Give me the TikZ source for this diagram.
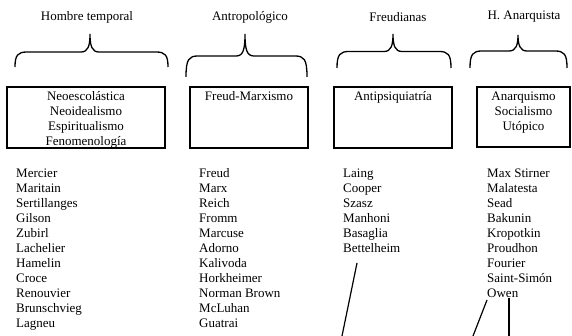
\documentclass[tikz,border=0pt]{standalone}
\usepackage{fontspec}
\setmainfont{Liberation Serif}
\usetikzlibrary{positioning}
\newcommand{\llave}[6]{%
  \draw[line width=1.3pt] (#1,#6) .. controls (#1,#5+3) and (#1+3,#5) .. (#1+12,#5)
    -- (#2-9,#5) .. controls (#2-2,#5) and (#2,#5-6) .. (#2,#4)
    .. controls (#2,#5-6) and (#2+2,#5) .. (#2+9,#5)
    -- (#3-12,#5) .. controls (#3-3,#5) and (#3,#5+3) .. (#3,#6);%
}
\tikzset{
  texto/.style={font=\fontsize{13}{15}\selectfont, inner sep=0pt},
  caja/.style={draw, line width=1.6pt, inner sep=0pt},
  textocaja/.style={texto, align=center, anchor=north},
  lista/.style={texto, align=left, anchor=north west},
  raya/.style={line width=1.2pt}
}
\begin{document}
\begin{tikzpicture}[x=1pt,y=-1pt]
  \useasboundingbox (0,0) rectangle (572,336);
  % titulos
  \node[texto] (tHombre) at (87,17) {Hombre temporal};
  \node[texto] (tAntrop) at (250,17) {Antropológico};
  \node[texto] (tFreud) at (398,17) {Freudianas};
  \node[texto] (tAnarq) at (524,17) {H. Anarquista};
  % llaves
  \llave{15}{90}{168}{34}{52}{67}
  \llave{186}{245}{307}{34}{56}{77}
  \llave{337}{393}{451}{34}{51.5}{68}
  \llave{470}{518}{567}{35}{51}{68}
  % cajas
  \node[caja, minimum width=158pt, minimum height=61pt] (cHombre) at (86,117.5) {};
  \node[caja, minimum width=118pt, minimum height=61pt] (cAntrop) at (249,117.5) {};
  \node[caja, minimum width=118pt, minimum height=61pt] (cFreud) at (393,117.5) {};
  \node[caja, minimum width=93pt, minimum height=60pt] (cAnarq) at (523.5,117) {};
  \node[textocaja, below=3.3pt of cHombre.north]
    {\strut Neoescolástica\\Neoidealismo\\Espiritualismo\\Fenomenología};
  \node[textocaja, below=3.3pt of cAntrop.north] {\strut Freud-Marxismo};
  \node[textocaja, below=3.3pt of cFreud.north] {\strut Antipsiquiatría};
  \node[textocaja, below=3.3pt of cAnarq.north]
    {\strut Anarquismo\\Socialismo\\Utópico};
  % autores
  \node[lista] (lHombre) at (16,166.5)
    {\strut Mercier\\Maritain\\Sertillanges\\Gilson\\Zubirl\\Lachelier\\Hamelin\\Croce\\Renouvier\\Brunschvieg\\Lagneu};
  \node[lista] (lAntrop) at (199,166.5)
    {\strut Freud\\Marx\\Reich\\Fromm\\Marcuse\\Adorno\\Kalivoda\\Horkheimer\\Norman Brown\\McLuhan\\Guatrai};
  \node[lista] (lFreud) at (343,166.5)
    {\strut Laing\\Cooper\\Szasz\\Manhoni\\Basaglia\\Bettelheim};
  \node[lista] (lAnarq) at (487,166.5)
    {\strut Max Stirner\\Malatesta\\Sead\\Bakunin\\Kropotkin\\Proudhon\\Fourier\\Saint-Simón\\Owen};
  % rayas
  \coordinate (bet) at (357,263);
  \coordinate (finA) at (342,336);
  \coordinate (owA) at (487,300);
  \coordinate (finB) at (473,336);
  \coordinate (owB) at (509,298);
  \coordinate (finC) at (509,336);
  \draw[raya] (bet) -- (finA);
  \draw[raya] (owA) -- (finB);
  \draw[raya] (owB) -- (finC);
\end{tikzpicture}
\end{document}
